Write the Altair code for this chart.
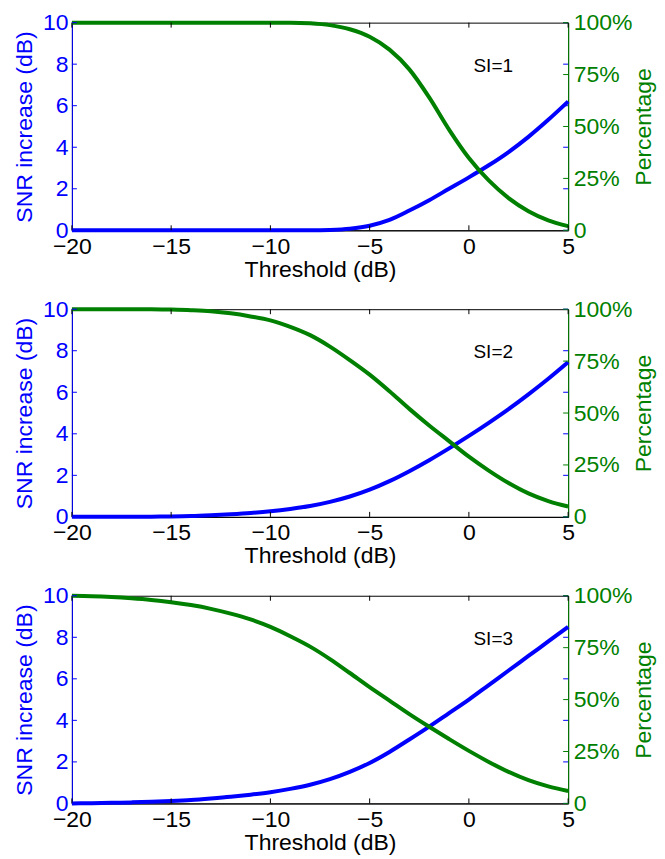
import altair as alt
import pandas as pd

# ---------------- data ----------------
thresholds = list(range(-20, 6))  # Threshold (dB)

si1_snr = [0, 0, 0, 0, 0, 0, 0, 0, 0, 0, 0, 0, 0, 0.02, 0.08, 0.22, 0.5,
           0.95, 1.45, 2.0, 2.55, 3.13, 3.77, 4.5, 5.32, 6.2]
si1_pct = [100, 100, 100, 100, 100, 100, 100, 100, 100, 100, 100, 100, 99.7,
           98.8, 96.8, 93.2, 87, 77.5, 64, 48.5, 34.8, 24, 15.5, 9.2, 4.8, 2]

si2_snr = [0, 0, 0, 0, 0.01, 0.02, 0.04, 0.08, 0.13, 0.19, 0.27, 0.38, 0.52,
           0.72, 0.98, 1.31, 1.72, 2.2, 2.73, 3.3, 3.9, 4.53, 5.19, 5.9, 6.65, 7.45]
si2_pct = [100, 100, 100, 100, 100, 99.8, 99.5, 99, 98, 96.5, 94.6, 91.5, 87.5,
           82, 75.5, 68.5, 60.5, 52, 44, 36.5, 29, 22.3, 16.3, 11.3, 7.6, 5]

si3_snr = [0.0, 0.01, 0.03, 0.05, 0.08, 0.12, 0.17, 0.24, 0.32, 0.42, 0.54, 0.7,
           0.9, 1.17, 1.52, 1.95, 2.48, 3.08, 3.7, 4.35, 5.0, 5.7, 6.4, 7.1, 7.8, 8.5]
si3_pct = [100, 99.8, 99.4, 98.8, 98, 96.9, 95.5, 93.7, 91.4, 88.6, 85, 80.5,
           75.5, 69.5, 62.8, 56, 49.5, 43, 36.9, 31, 25.3, 20, 15.2, 11.2, 8.2, 6]

panel_labels = ["SI=1", "SI=2", "SI=3"]

x_ticks = [-20, -15, -10, -5, 0, 5]
snr_ticks = [0, 2, 4, 6, 8, 10]
pct_ticks = [0, 25, 50, 75, 100]

# ---------------- style ----------------
FONT = "Liberation Sans"
BLUE = "#0000ff"
GREEN = "#008000"
W, H = 497, 208
TICK = 5

x_scale = alt.Scale(domain=[-20, 5], nice=False, zero=False)
snr_scale = alt.Scale(domain=[0, 10], nice=False, zero=False)
pct_scale = alt.Scale(domain=[0, 100], nice=False, zero=False)

x_axis = alt.Axis(values=x_ticks, title="Threshold (dB)", labelColor="black",
                  titleColor="black", domainColor="black", labelPadding=5,
                  titlePadding=0)


def panel(snr, pct, label):
    df = pd.DataFrame({"threshold": thresholds, "snr": snr, "pct": pct})
    xt = pd.DataFrame({"threshold": x_ticks})
    st = pd.DataFrame({"v": snr_ticks})
    pt = pd.DataFrame({"v": pct_ticks})

    xenc = alt.X("threshold:Q", scale=x_scale, axis=x_axis)

    blue = alt.Chart(df).mark_line(
        color=BLUE, strokeWidth=4, interpolate="monotone", clip=False
    ).encode(
        x=xenc,
        y=alt.Y("snr:Q", scale=snr_scale,
                axis=alt.Axis(values=snr_ticks, title="SNR increase (dB)",
                              orient="left", labelColor=BLUE,
                              titleColor=BLUE, domainColor=BLUE,
                              labelPadding=4, titlePadding=6)),
    )
    green = alt.Chart(df).mark_line(
        color=GREEN, strokeWidth=4, interpolate="monotone", clip=False
    ).encode(
        x=xenc,
        y=alt.Y("pct:Q", scale=pct_scale,
                axis=alt.Axis(values=pct_ticks, title="Percentage",
                              orient="right", labelColor=GREEN,
                              titleColor=GREEN, domainColor=GREEN,
                              labelExpr="datum.value == 0 ? '0' : datum.value + '%'",
                              titleAngle=270, titleBaseline="top",
                              labelPadding=5, titlePadding=1)),
    )
    # inward ticks (MATLAB style)
    xt_bottom = alt.Chart(xt).mark_rule(color="black").encode(
        x=xenc, y=alt.value(H), y2=alt.value(H - TICK))
    xt_top = alt.Chart(xt).mark_rule(color="black").encode(
        x=xenc, y=alt.value(0), y2=alt.value(TICK))
    st_left = alt.Chart(st).mark_rule(color=BLUE).encode(
        y=alt.Y("v:Q", scale=snr_scale, axis=None),
        x=alt.value(0), x2=alt.value(TICK))
    st_right = alt.Chart(st).mark_rule(color=BLUE).encode(
        y=alt.Y("v:Q", scale=snr_scale, axis=None),
        x=alt.value(W - TICK), x2=alt.value(W))
    pt_right = alt.Chart(pt).mark_rule(color=GREEN).encode(
        y=alt.Y("v:Q", scale=pct_scale, axis=None),
        x=alt.value(W - TICK), x2=alt.value(W))
    txt = alt.Chart(pd.DataFrame({"label": [label]})).mark_text(
        font=FONT, fontSize=19, color="black"
    ).encode(x=alt.value(422), y=alt.value(43), text="label:N")

    return alt.layer(
        blue, green, xt_bottom, xt_top, st_left, st_right, pt_right, txt
    ).resolve_scale(y="independent").resolve_axis(y="independent").properties(
        width=W, height=H)


chart = alt.vconcat(
    panel(si1_snr, si1_pct, panel_labels[0]),
    panel(si2_snr, si2_pct, panel_labels[1]),
    panel(si3_snr, si3_pct, panel_labels[2]),
    spacing=15,
).properties(
    padding={"left": 4, "top": 2, "right": 0, "bottom": 0},
    background="white",
).configure_view(
    stroke="black", strokeWidth=1
).configure_axis(
    labelFont=FONT, titleFont=FONT, labelFontSize=23, titleFontSize=23,
    titleFontWeight="normal", grid=False, ticks=False, labelFlush=False,
    labelOverlap=False, domainWidth=1,
)

chart.save("out.html", embed_options={"renderer": "svg", "actions": False})
